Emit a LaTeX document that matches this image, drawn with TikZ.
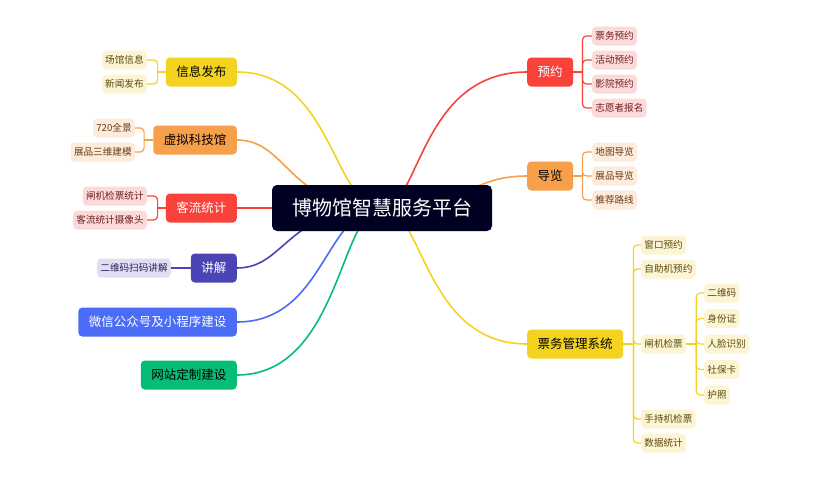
\documentclass[tikz,border=0pt]{standalone}
\usepackage{fontspec}
\setmainfont{Noto Sans CJK SC}
\usetikzlibrary{calc,backgrounds}
% colours of the branches
\definecolor{hubc}{HTML}{000022}
\definecolor{yel}{HTML}{F3D31F}
\definecolor{yelLt}{HTML}{FCF4D2}
\definecolor{yelTx}{HTML}{5B4B10}
\definecolor{orn}{HTML}{F6A04C}
\definecolor{ornLt}{HTML}{FDEBDB}
\definecolor{ornTx}{HTML}{6A3D14}
\definecolor{rd}{HTML}{F9423A}
\definecolor{rdLt}{HTML}{FDDADA}
\definecolor{rdTx}{HTML}{6E1F1F}
\definecolor{pur}{HTML}{4B44B5}
\definecolor{purLt}{HTML}{E0DEF3}
\definecolor{purTx}{HTML}{26225A}
\definecolor{blu}{HTML}{4A6CF7}
\definecolor{grn}{HTML}{06BD77}
\tikzset{
  topic/.style={rounded corners=4pt,minimum height=29pt,inner xsep=10.5pt,inner ysep=0pt,font=\fontsize{12.5}{15}\selectfont},
  leaf/.style={rounded corners=4pt,minimum height=19pt,inner xsep=3.2pt,inner ysep=0pt,font=\fontsize{9.6}{12}\selectfont},
  yleaf/.style={leaf,fill=yelLt,text=yelTx},
  oleaf/.style={leaf,fill=ornLt,text=ornTx},
  rleaf/.style={leaf,fill=rdLt,text=rdTx},
  pleaf/.style={leaf,fill=purLt,text=purTx},
  branch/.style={line width=1.6pt},
  twig/.style={line width=1.2pt,rounded corners=4pt},
}
\begin{document}
\begin{tikzpicture}[x=1pt,y=-1pt]
\useasboundingbox (0,0) rectangle (832,480);
% the root
\node[fill=hubc,text=white,rounded corners=5pt,minimum width=220pt,minimum height=46pt,inner sep=0pt,font=\fontsize{20}{24}\selectfont] (hub) at (382,208) {博物馆智慧服务平台};
%% left topics
\node[topic,fill=yel,text=black,anchor=east] (info) at (237,72) {信息发布};
\node[topic,fill=orn,text=black,anchor=east] (vsci) at (237,140) {虚拟科技馆};
\node[topic,fill=rd,text=white,anchor=east] (flow) at (237,208) {客流统计};
\node[topic,fill=pur,text=white,anchor=east] (guide) at (237,268) {讲解};
\node[topic,fill=blu,text=white,anchor=east] (wechat) at (237,322) {微信公众号及小程序建设};
\node[topic,fill=grn,text=black,anchor=east] (web) at (237,375) {网站定制建设};
%% right topics
\node[topic,fill=rd,text=white,anchor=west] (book) at (527,72) {预约};
\node[topic,fill=orn,text=black,anchor=west] (tour) at (527,176) {导览};
\node[topic,fill=yel,text=black,anchor=west] (ticket) at (527,344) {票务管理系统};
%% left leaves
\node[yleaf,anchor=east] (venue) at (147,60) {场馆信息};
\node[yleaf,anchor=east] (news) at (147,84) {新闻发布};
\node[oleaf,anchor=east] (pano) at (135,128) {720全景};
\node[oleaf,anchor=east] (model) at (135,152) {展品三维建模};
\node[rleaf,anchor=east] (gatestat) at (147,196) {闸机检票统计};
\node[rleaf,anchor=east] (cam) at (147,220) {客流统计摄像头};
\node[pleaf,anchor=east] (qr) at (171,268) {二维码扫码讲解};
%% right leaves
\node[rleaf,anchor=west] (tix) at (592,36) {票务预约};
\node[rleaf,anchor=west] (act) at (592,60) {活动预约};
\node[rleaf,anchor=west] (cine) at (592,84) {影院预约};
\node[rleaf,anchor=west] (vol) at (592,108) {志愿者报名};
\node[oleaf,anchor=west] (map) at (592,152) {地图导览};
\node[oleaf,anchor=west] (exh) at (592,176) {展品导览};
\node[oleaf,anchor=west] (route) at (592,200) {推荐路线};
\node[yleaf,anchor=west] (win) at (641,245) {窗口预约};
\node[yleaf,anchor=west] (self) at (641,269) {自助机预约};
\node[yleaf,anchor=west] (gate) at (641,344) {闸机检票};
\node[yleaf,anchor=west] (hand) at (641,419) {手持机检票};
\node[yleaf,anchor=west] (stat) at (641,443) {数据统计};
\node[yleaf,anchor=west] (qrcode) at (704,293) {二维码};
\node[yleaf,anchor=west] (idcard) at (704,318.5) {身份证};
\node[yleaf,anchor=west] (face) at (704,344) {人脸识别};
\node[yleaf,anchor=west] (social) at (704,369.5) {社保卡};
\node[yleaf,anchor=west] (pass) at (704,395) {护照};
\begin{scope}[on background layer]
% curves from the root
\draw[branch,yel] (hub.center) .. controls +(-49,0) and +(96,0) .. (info.east);
\draw[branch,orn] (hub.center) .. controls +(-94,0) and +(51,0) .. (vsci.east);
\draw[branch,rd] (hub.center) -- (flow.east);
\draw[branch,pur] (hub.center) .. controls +(-96,0) and +(49,0) .. (guide.east);
\draw[branch,blu] (hub.center) .. controls +(-57,0) and +(88,0) .. (wechat.east);
\draw[branch,grn] (hub.center) .. controls +(-42,0) and +(103,0) .. (web.east);
\draw[branch,rd] (hub.center) .. controls +(38,0) and +(-107,0) .. (book.west);
\draw[branch,orn] (hub.center) .. controls +(86,0) and +(-59,0) .. (tour.west);
\draw[branch,yel] (hub.center) .. controls +(42,0) and +(-103,0) .. (ticket.west);
%% brackets to the leaves
\coordinate (infobar) at ($(info.west)+(-8,0)$);
\draw[twig,yel] (info.west) -- (infobar);
\foreach \c in {venue,news} \draw[twig,yel] (infobar) |- (\c.east);
\coordinate (vscibar) at ($(vsci.west)+(-9,0)$);
\draw[twig,orn] (vsci.west) -- (vscibar);
\foreach \c in {pano,model} \draw[twig,orn] (vscibar) |- (\c.east);
\coordinate (flowbar) at ($(flow.west)+(-8,0)$);
\draw[twig,rd] (flow.west) -- (flowbar);
\foreach \c in {gatestat,cam} \draw[twig,rd] (flowbar) |- (\c.east);
\draw[twig,pur] (guide.west) -- (qr.east);
\coordinate (bookbar) at ($(book.east)+(9,0)$);
\draw[twig,rd] (book.east) -- (bookbar);
\foreach \c in {tix,act,cine,vol} \draw[twig,rd] (bookbar) |- (\c.west);
\coordinate (tourbar) at ($(tour.east)+(9,0)$);
\draw[twig,orn] (tour.east) -- (tourbar);
\foreach \c in {map,exh,route} \draw[twig,orn] (tourbar) |- (\c.west);
\coordinate (ticketbar) at ($(ticket.east)+(10,0)$);
\draw[twig,yel] (ticket.east) -- (ticketbar);
\foreach \c in {win,self,gate,hand,stat} \draw[twig,yel] (ticketbar) |- (\c.west);
\coordinate (gatebar) at ($(gate.east)+(10,0)$);
\draw[twig,yel] (gate.east) -- (gatebar);
\foreach \c in {qrcode,idcard,face,social,pass} \draw[twig,yel] (gatebar) |- (\c.west);
\end{scope}
\end{tikzpicture}
\end{document}
